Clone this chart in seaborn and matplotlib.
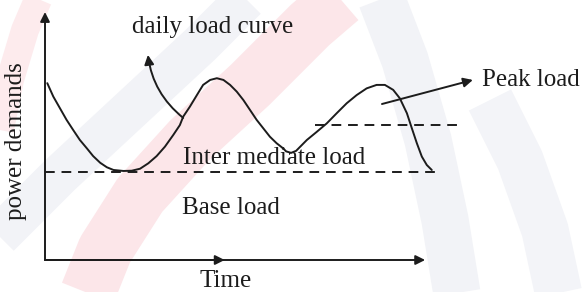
import matplotlib
matplotlib.use("Agg")
import matplotlib.pyplot as plt
import seaborn as sns
import pandas as pd
from matplotlib.lines import Line2D

# daily load curve (time 0-100, demand 0-100)
time = [0.55, 2.0, 3.6, 5.2, 6.8, 8.4, 10.1, 11.6, 13.3, 14.9, 16.5, 18.9,
        20.9, 22.9, 24.9, 26.9, 28.9, 30.9, 32.5, 33.3, 34.9, 36.6, 38.1,
        39.8, 41.4, 43.0, 44.6, 46.2, 47.8, 49.4, 51.0, 52.6, 54.2, 55.8,
        57.4, 58.1, 59.3, 60.5, 63.1, 65.5, 67.9, 70.3, 72.7, 75.1, 77.5,
        79.9, 81.9, 83.9, 85.5, 87.2, 88.4, 89.6, 90.8, 92.0, 93.2]
load = [71.3, 65.9, 61.2, 56.5, 52.4, 48.4, 45.0, 41.9, 39.2, 37.4, 36.3, 35.9,
        36.0, 36.8, 39.0, 41.9, 45.7, 50.4, 54.4, 57.8, 61.8, 66.5, 70.6,
        72.6, 73.3, 72.6, 70.6, 67.9, 64.5, 60.5, 56.5, 53.1, 49.7, 47.1,
        45.0, 43.8, 43.2, 44.0, 48.4, 51.7, 55.1, 59.2, 63.2, 66.5, 69.2,
        70.6, 70.6, 68.6, 65.2, 59.2, 53.1, 47.1, 41.7, 38.3, 36.3]

base_level = 35.5
base_span = [0, 94.7]
peak_level = 54.4
peak_span = [65, 99.3]

labels = ["daily load curve", "Peak load", "Inter mediate load", "Base load"]
label_pos = [(21, 94), (105.3, 72.6), (33.3, 41.3), (33, 21)]

df = pd.DataFrame({"time": time, "load": load})

sns.set_style("white")
plt.rcParams["font.family"] = ["Liberation Serif", "DejaVu Serif"]

fig = plt.figure(figsize=(5.82, 2.92), dpi=100)

# faint watermark swooshes in the background
wm = [
    ([85, 105, 140, 190, 250, 310, 345], [300, 250, 195, 140, 85, 25, -5], "#fce6e9", 40),
    ([0, 10, 25, 40], [130, 80, 30, -5], "#fdebed", 20),
    ([-5, 60, 130, 200, 250], [240, 175, 110, 45, -5], "#f2f3f7", 30),
    ([380, 405, 428, 445, 458], [-5, 60, 140, 220, 300], "#f2f3f7", 34),
    ([490, 520, 545, 560], [100, 160, 230, 300], "#f3f4f8", 34),
]
for xs, ys, c, w in wm:
    fig.add_artist(Line2D([x / 582 for x in xs], [1 - y / 292 for y in ys],
                          color=c, lw=w, solid_capstyle="butt", zorder=0))

ax = fig.add_axes([45 / 582, 32 / 292, 415 / 582, 248 / 292])
ax.patch.set_alpha(0)
ax.set_xlim(0, 100)
ax.set_ylim(0, 100)
ax.set_xticks([])
ax.set_yticks([])
sns.despine(ax=ax, left=True, bottom=True)

ink = "#1c1c1c"
sns.lineplot(data=df, x="time", y="load", sort=False, estimator=None,
             color=ink, lw=1.4, ax=ax)
ax.set_xlabel("")
ax.set_ylabel("")

ax.hlines(base_level, *base_span, colors=ink, linestyles=(0, (5, 3.5)), lw=1.4)
ax.hlines(peak_level, *peak_span, colors=ink, linestyles=(0, (5, 3.5)), lw=1.4)

arrow = dict(arrowstyle="-|>", color=ink, lw=1.4, mutation_scale=14,
             shrinkA=0, shrinkB=0)
# axes
ax.annotate("", xy=(0, 100), xytext=(0, 0), arrowprops=arrow, annotation_clip=False)
ax.annotate("", xy=(91.6, 0), xytext=(0, 0), arrowprops=arrow, annotation_clip=False)
ax.annotate("", xy=(43.3, 0), xytext=(0, 0), arrowprops=arrow, annotation_clip=False)
# pointers
ax.annotate("", xy=(24.8, 82.7), xytext=(33.3, 57.3),
            arrowprops=dict(arrow, connectionstyle="arc3,rad=-0.2"),
            annotation_clip=False)
ax.annotate("", xy=(103.1, 72.6), xytext=(81.2, 62.9), arrowprops=arrow,
            annotation_clip=False)

for txt, (x, y) in zip(labels, label_pos):
    ax.text(x, y, txt, fontsize=18, color=ink, ha="left", va="center",
            clip_on=False)

ax.text(43.6, -8.6, "Time", fontsize=18, color=ink, ha="center", va="center",
        clip_on=False)
ax.text(-7.0, 48, "power demands", fontsize=18, color=ink, rotation=90,
        ha="center", va="center", clip_on=False)

fig.savefig("out.png", dpi=100)
plt.close(fig)
